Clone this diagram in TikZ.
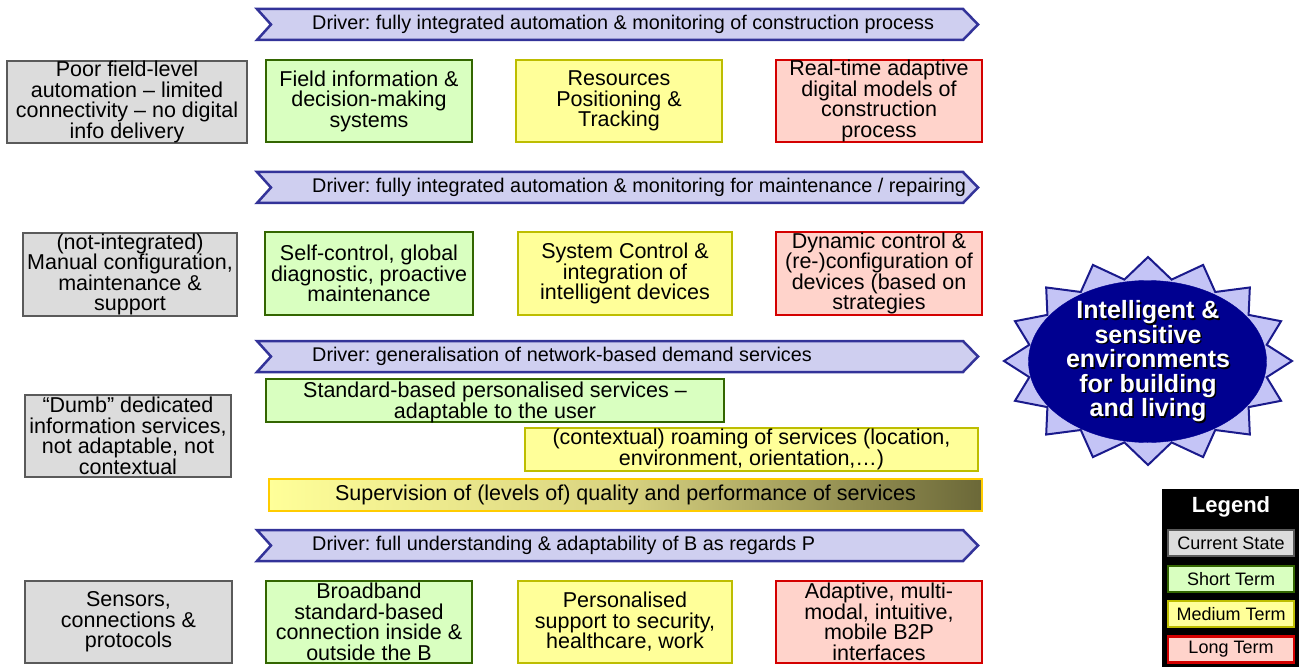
\documentclass[tikz,border=0pt]{standalone}
\usepackage{fontspec}
\setmainfont{Liberation Sans}
\frenchspacing
\usetikzlibrary{shapes.geometric}
\definecolor{grayfill}{HTML}{DCDCDC}
\definecolor{grayline}{HTML}{5A5A5A}
\definecolor{greenfill}{HTML}{D9FFC0}
\definecolor{greenline}{HTML}{336600}
\definecolor{yelfill}{HTML}{FFFF99}
\definecolor{yelline}{HTML}{BDBD00}
\definecolor{redfill}{HTML}{FFD3CB}
\definecolor{redline}{HTML}{D40000}
\definecolor{drvfill}{HTML}{CFCFF0}
\definecolor{drvline}{HTML}{333399}
\definecolor{navy}{HTML}{000090}
\definecolor{spikefill}{HTML}{C4C4F6}
\definecolor{spikeline}{HTML}{1A1A8C}
\definecolor{gold}{HTML}{FFCC00}
\definecolor{olive}{HTML}{6B6838}
\definecolor{midol}{HTML}{D8D280}
\tikzset{
  boxbase/.style={draw, line width=2.5pt, inner sep=0pt},
  boxtext/.style={align=center, inner sep=0pt, font=\fontsize{21.5}{20.5}\selectfont},
  curbox/.style={boxbase, fill=grayfill, draw=grayline},
  shortbox/.style={boxbase, fill=greenfill, draw=greenline},
  medbox/.style={boxbase, fill=yelfill, draw=yelline},
  longbox/.style={boxbase, fill=redfill, draw=redline},
  drv/.style={draw=drvline, fill=drvfill, line width=2.5pt, line join=miter},
  drvtext/.style={inner sep=0pt, font=\fontsize{19.8}{21}\selectfont, anchor=west},
  driver/.pic={\draw[drv] (0,0) -- (706,0) -- (721,15.5) -- (706,31) -- (0,31) -- (14,15.5) -- cycle;},
  legbox/.style={line width=2.5pt, minimum width=126pt, minimum height=26pt, inner sep=0pt, font=\fontsize{18}{20}\selectfont},
  startext/.style={align=center, inner sep=0pt, font=\bfseries\fontsize{25}{24.5}\selectfont}
}
\begin{document}
\begin{tikzpicture}[x=1pt,y=-1pt]
\useasboundingbox (0,0) rectangle (1300,668);

% Driver arrows
\pic at (257,9) {driver};
\node[drvtext] (d1) at (312,24.5) {Driver: fully integrated automation \& monitoring of construction process};
\pic at (257,172) {driver};
\node[drvtext] (d2) at (312,187.5) {Driver: fully integrated automation \& monitoring for maintenance / repairing};
\pic at (257,341) {driver};
\node[drvtext] (d3) at (312,356.5) {Driver: generalisation of network-based demand services};
\pic at (257,530) {driver};
\node[drvtext] (d4) at (312,545.5) {Driver: full understanding \& adaptability of B as regards P};

% Row 1
\node[curbox, minimum width=240pt, minimum height=82pt] (c1) at (127,102) {};
\node[boxtext] (c1t) at (c1) {Poor field-level\\automation -- limited\\connectivity -- no digital\\info delivery};
\node[shortbox, minimum width=206pt, minimum height=82pt] (s1) at (369,101) {};
\node[boxtext] (s1t) at (s1) {Field information \&\\decision-making\\systems};
\node[medbox, minimum width=206pt, minimum height=82pt] (m1) at (619,101) {};
\node[boxtext] (m1t) at (m1) {Resources\\Positioning \&\\Tracking};
\node[longbox, minimum width=206pt, minimum height=82pt] (l1) at (879,101) {};
\node[boxtext] (l1t) at (l1) {Real-time adaptive\\digital models of\\construction\\process};

% Row 2
\node[curbox, minimum width=214pt, minimum height=83pt] (c2) at (130,274.5) {};
\node[boxtext] (c2t) at (c2) {(not-integrated)\\Manual configuration,\\maintenance \&\\support};
\node[shortbox, minimum width=208pt, minimum height=83pt] (s2) at (369,273.5) {};
\node[boxtext] (s2t) at (s2) {Self-control, global\\diagnostic, proactive\\maintenance};
\node[medbox, minimum width=214pt, minimum height=83pt] (m2) at (625,273.5) {};
\node[boxtext] (m2t) at (m2) {System Control \&\\integration of\\intelligent devices};
\node[longbox, minimum width=206pt, minimum height=83pt] (l2) at (879,273.5) {};
\node[boxtext] (l2t) at (l2) {Dynamic control \&\\(re-)configuration of\\devices (based on\\strategies};

% Row 3
\node[curbox, minimum width=206pt, minimum height=82pt] (c3) at (128,436) {};
\node[boxtext] (c3t) at (c3) {“Dumb” dedicated\\information services,\\not adaptable, not\\contextual};
\node[shortbox, minimum width=458pt, minimum height=43pt] (s3) at (495,400.5) {};
\node[boxtext] (s3t) at ([yshift=-2pt]s3.center) {Standard-based personalised services --\\adaptable to the user};
\node[medbox, minimum width=453pt, minimum height=43pt] (m3) at (751.5,449.5) {};
\node[boxtext] (m3t) at (m3) {(contextual) roaming of services (location,\\environment, orientation,…)};
\node[boxbase, draw=gold, left color=yelfill, right color=olive, middle color=midol, minimum width=713pt, minimum height=32pt] (q3) at (625.5,495) {};
\node[boxtext] (q3t) at (q3) {Supervision of (levels of) quality and performance of services};

% Row 4
\node[curbox, minimum width=207pt, minimum height=82pt] (c4) at (128.5,622) {};
\node[boxtext] (c4t) at (c4) {Sensors,\\connections \&\\protocols};
\node[shortbox, minimum width=206pt, minimum height=82pt] (s4) at (369,622) {};
\node[boxtext] (s4t) at (s4) {Broadband\\standard-based\\connection inside \&\\outside the B};
\node[medbox, minimum width=214pt, minimum height=82pt] (m4) at (625,622) {};
\node[boxtext] (m4t) at (m4) {Personalised\\support to security,\\healthcare, work};
\node[longbox, minimum width=206pt, minimum height=82pt] (l4) at (879,622) {};
\node[boxtext] (l4t) at (l4) {Adaptive, multi-\\modal, intuitive,\\mobile B2P\\interfaces};

% Star goal
\foreach \k in {0,...,31}{
  \pgfmathsetmacro{\rx}{ifthenelse(isodd(\k),121,144)}
  \pgfmathsetmacro{\ry}{ifthenelse(isodd(\k),83,104)}
  \coordinate (s\k) at ({1148+\rx*cos(90+11.25*\k)},{361-\ry*sin(90+11.25*\k)});
}
\draw[fill=spikefill, draw=spikeline, line width=2pt, line join=miter]
  (s0) \foreach \k in {1,...,31}{ -- (s\k) } -- cycle;
\node[ellipse, fill=navy, draw=navy, minimum width=238pt, minimum height=162pt, inner sep=0pt] (goal) at (1147.5,361.5) {};
\node[startext, text=black] (goalshadow) at (1149.5,363) {Intelligent \&\\sensitive\\environments\\for building\\and living};
\node[startext, text=white] (goaltext) at (1148,361.5) {Intelligent \&\\sensitive\\environments\\for building\\and living};

% Legend
\node[fill=black, minimum width=137pt, minimum height=178pt, inner sep=0pt] (leg) at (1230.5,578) {};
\node[text=white, font=\bfseries\fontsize{22}{24}\selectfont, inner sep=0pt] (legt) at (1231,506.5) {Legend};
\node[legbox, draw=grayline, fill=grayfill] (lg1) at (1231,543) {Current State};
\node[legbox, draw=greenline, fill=greenfill] (lg2) at (1231,579) {Short Term};
\node[legbox, draw=yelline, fill=yelfill] (lg3) at (1231,614) {Medium Term};
\node[legbox, draw=redline, fill=redfill] (lg4) at (1231,649.5) {Long Term};
\end{tikzpicture}
\end{document}
